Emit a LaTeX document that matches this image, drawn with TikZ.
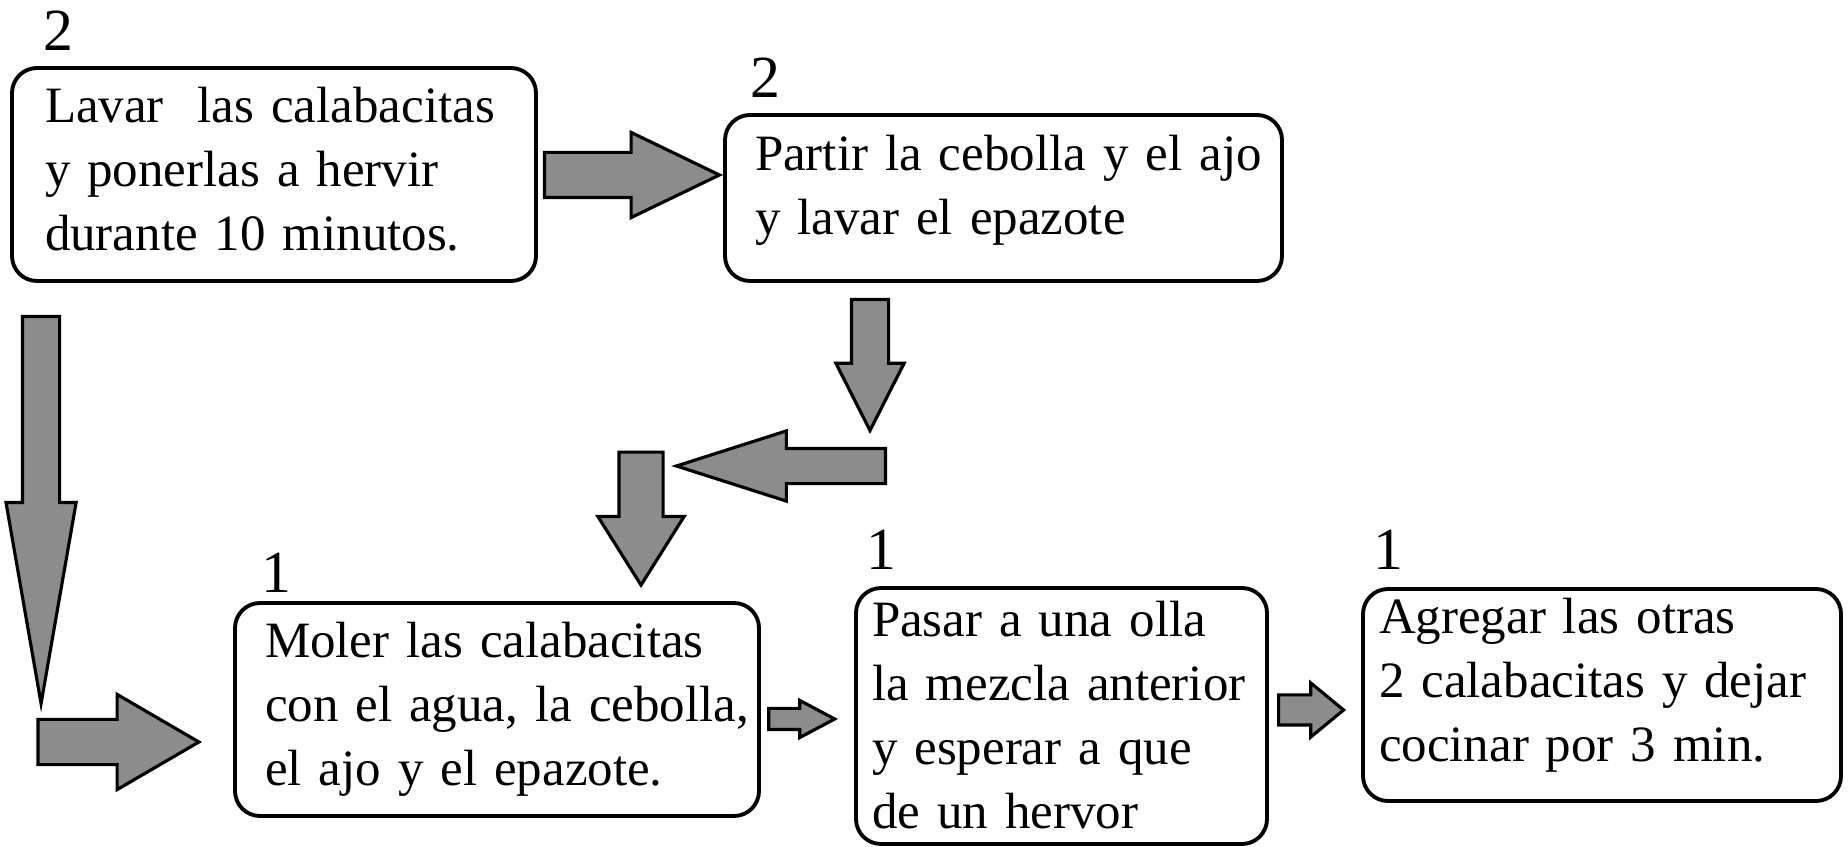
\documentclass[tikz,border=0pt]{standalone}
\usepackage{fontspec}
\setmainfont{Liberation Serif}
\usepackage{tikz}
\usetikzlibrary{shapes.arrows, positioning}

\begin{document}
\begin{tikzpicture}[node distance=2cm]
	\tikzstyle{paso} = [rectangle, rounded corners=0.25cm, draw=black, line width=1.1pt, inner xsep=0pt, inner ysep=0pt, align=left, font=\fontsize{14.5}{18.2}\selectfont]
	\tikzstyle{sangria} = [execute at begin node={\leftskip=#1\relax}]
	\tikzstyle{num} = [anchor=south west, inner sep=0pt, font=\fontsize{17}{20}\selectfont]
	\tikzstyle{flecha} = [single arrow, draw=black, fill=black!45, line width=0.9pt, inner xsep=0pt, minimum width=0pt]

	\useasboundingbox (0,0) rectangle (18.48,8.46);

	\node (lavar) [paso, text width=5.24cm, text height=0.55cm, text depth=1.58cm, sangria=0.33cm, label={[num, xshift=0.33cm, yshift=0.15cm]north west:2}] at (2.74,6.715) {Lavar\ \ las calabacitas\\y ponerlas a hervir\\durante 10 minutos.};
	\node (partir) [paso, right of=lavar, xshift=5.295cm, yshift=-0.235cm, text width=5.57cm, text height=0.56cm, text depth=1.10cm, sangria=0.30cm, label={[num, xshift=0.27cm, yshift=0.15cm]north west:2}] {Partir la cebolla y el ajo\\y lavar el epazote};
	\node (moler) [paso, below of=lavar, xshift=2.23cm, yshift=-3.35cm, text width=5.24cm, text height=0.55cm, text depth=1.58cm, sangria=0.30cm, label={[num, xshift=0.275cm, yshift=0.08cm]north west:1}] {Moler las calabacitas\\con el agua, la cebolla,\\el ajo y el epazote.};
	\node (olla) [paso, right of=moler, xshift=3.645cm, yshift=-0.065cm, text width=4.11cm, text height=0.485cm, text depth=2.075cm, sangria=0.16cm, label={[num, xshift=0.12cm, yshift=0.16cm]north west:1}] {Pasar a una olla\\la mezcla anterior\\y esperar a que\\de un hervor};
	\node (agregar) [paso, right of=olla, xshift=3.405cm, yshift=0.21cm, text width=4.78cm, text height=0.45cm, text depth=1.67cm, sangria=0.16cm, label={[num, xshift=0.115cm, yshift=0.17cm]north west:1}] {Agregar las otras\\2 calabacitas y dejar\\cocinar por 3 min.};

	\node (fA) [flecha, anchor=tip, inner ysep=0.21cm, single arrow head extend=0.20cm, single arrow tip angle=51.5, minimum height=1.75cm] at ([yshift=0.23cm]partir.west) {};
	\node (fB) [flecha, rotate=-90, anchor=tail, inner ysep=0.17cm, single arrow head extend=0.165cm, single arrow tip angle=19.8, minimum height=3.87cm] at ([xshift=0.31cm, yshift=-0.32cm]lavar.south west) {};
	\node (fC) [flecha, anchor=tip, inner ysep=0.21cm, single arrow head extend=0.25cm, single arrow tip angle=60.4, minimum height=1.61cm] at ([xshift=-0.31cm, yshift=-0.325cm]moler.west) {};
	\node (fE) [flecha, rotate=-90, anchor=tail, inner ysep=0.17cm, single arrow head extend=0.155cm, single arrow tip angle=53.8, minimum height=1.31cm] at ([xshift=-1.335cm, yshift=-0.15cm]partir.south) {};
	\node (fF) [flecha, rotate=180, anchor=tail, inner ysep=0.16cm, single arrow head extend=0.175cm, single arrow tip angle=35.4, minimum height=2.09cm] at ([xshift=0.17cm, yshift=-0.32cm]fE.tip) {};
	\node (fD) [flecha, rotate=-90, anchor=tip, inner ysep=0.205cm, single arrow head extend=0.21cm, single arrow tip angle=64.3, minimum height=1.33cm] at ([xshift=1.44cm, yshift=0.13cm]moler.north) {};
	\node (fG) [flecha, anchor=tip, inner ysep=0.09cm, single arrow head extend=0.08cm, single arrow tip angle=56, minimum height=0.66cm] at ([xshift=-0.16cm, yshift=-0.03cm]olla.west) {};
	\node (fH) [flecha, anchor=tip, inner ysep=0.135cm, single arrow head extend=0.12cm, single arrow tip angle=79, minimum height=0.65cm] at ([xshift=-0.15cm, yshift=-0.15cm]agregar.west) {};

\end{tikzpicture}
\end{document}
